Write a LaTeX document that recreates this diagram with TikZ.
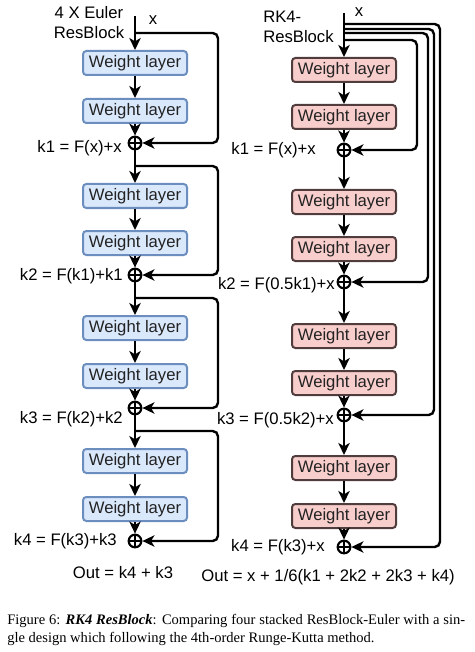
\documentclass[tikz,border=0pt]{standalone}
\usepackage{fontspec}
\setmainfont{Liberation Serif}
\setsansfont{Liberation Sans}
\usepackage{tikz}
\usetikzlibrary{arrows.meta}
\definecolor{eulerfill}{HTML}{DAE8FC}
\definecolor{eulerline}{HTML}{6C8EBF}
\definecolor{rkfill}{HTML}{F8CECC}
\definecolor{rkline}{HTML}{503C3C}
\definecolor{layertext}{HTML}{222222}

\begin{document}
\begin{tikzpicture}[x=0.75pt,y=-0.75pt]
\tikzstyle{layer}=[draw,rounded corners=2.5pt,line width=1.5pt,minimum width=78pt,minimum height=18pt,inner sep=0pt,text=layertext,font=\sffamily\fontsize{12.5}{14}\selectfont]
\tikzstyle{euler}=[layer,draw=eulerline,fill=eulerfill]
\tikzstyle{rk}=[layer,draw=rkline,fill=rkfill]
\tikzstyle{plus}=[circle,draw,line width=1.6pt,minimum size=9.5pt,inner sep=0pt,path picture={\draw[line width=1.4pt] (path picture bounding box.north) -- (path picture bounding box.south) (path picture bounding box.west) -- (path picture bounding box.east);}]
\tikzstyle{flow}=[line width=1.8pt,-{Stealth[length=9pt,width=8.5pt,inset=2.5pt]}]
\tikzstyle{skip}=[flow,rounded corners=4pt]
\tikzstyle{lbl}=[font=\sffamily\fontsize{12.5}{15}\selectfont,inner sep=0pt]

\useasboundingbox (0,0) rectangle (474,652);

% Euler column
\coordinate (eIn) at (135,16);
\coordinate (eS1) at (135,33);
\coordinate (eS2) at (135,166);
\coordinate (eS3) at (135,298);
\coordinate (eS4) at (135,431);
\node (eW1) [euler] at (135,63) {Weight layer};
\node (eW2) [euler] at (135,111) {Weight layer};
\node (eP1) [plus] at (135,143) {};
\node (eW3) [euler] at (135,196) {Weight layer};
\node (eW4) [euler] at (135,243) {Weight layer};
\node (eP2) [plus] at (135,275) {};
\node (eW5) [euler] at (135,328) {Weight layer};
\node (eW6) [euler] at (135,376) {Weight layer};
\node (eP3) [plus] at (135,408) {};
\node (eW7) [euler] at (135,461) {Weight layer};
\node (eW8) [euler] at (135,509) {Weight layer};
\node (eP4) [plus] at (135,541) {};

\draw [flow] (eIn) -- (eW1);
\draw [flow] (eW1) -- (eW2);
\draw [flow] (eW2) -- (eP1);
\draw [flow] (eP1) -- (eW3);
\draw [flow] (eW3) -- (eW4);
\draw [flow] (eW4) -- (eP2);
\draw [flow] (eP2) -- (eW5);
\draw [flow] (eW5) -- (eW6);
\draw [flow] (eW6) -- (eP3);
\draw [flow] (eP3) -- (eW7);
\draw [flow] (eW7) -- (eW8);
\draw [flow] (eW8) -- (eP4);
\draw [skip] (eS1) -- ++(83,0) |- (eP1);
\draw [skip] (eS2) -- ++(83,0) |- (eP2);
\draw [skip] (eS3) -- ++(83,0) |- (eP3);
\draw [skip] (eS4) -- ++(83,0) |- (eP4);

\node (eTitle) [lbl,align=center] at (89,23) {4 X Euler\\ResBlock};
\node (eX) [lbl] at (153,20) {x};
\node (eK1) [lbl,anchor=east] at (122,148) {k1 = F(x)+x};
\node (eK2) [lbl,anchor=east] at (123,276) {k2 = F(k1)+k1};
\node (eK3) [lbl,anchor=east] at (123,419) {k3 = F(k2)+k2};
\node (eK4) [lbl,anchor=east] at (117,541) {k4 = F(k3)+k3};
\node (eOut) [lbl] at (123,573) {Out = k4 + k3};

% RK4 column
\coordinate (rIn) at (344,13);
\coordinate (rS4) at (344,24);
\coordinate (rS3) at (344,29);
\coordinate (rS2) at (344,33);
\coordinate (rS1) at (344,40);
\node (rW1) [rk] at (344,70) {Weight layer};
\node (rW2) [rk] at (344,117) {Weight layer};
\node (rP1) [plus] at (344,150) {};
\node (rW3) [rk] at (344,202) {Weight layer};
\node (rW4) [rk] at (344,249) {Weight layer};
\node (rP2) [plus] at (344,282) {};
\node (rW5) [rk] at (344,336) {Weight layer};
\node (rW6) [rk] at (344,383) {Weight layer};
\node (rP3) [plus] at (344,415) {};
\node (rW7) [rk] at (344,468) {Weight layer};
\node (rW8) [rk] at (344,516) {Weight layer};
\node (rP4) [plus] at (344,547) {};

\draw [flow] (rIn) -- (rW1);
\draw [flow] (rW1) -- (rW2);
\draw [flow] (rW2) -- (rP1);
\draw [flow] (rP1) -- (rW3);
\draw [flow] (rW3) -- (rW4);
\draw [flow] (rW4) -- (rP2);
\draw [flow] (rP2) -- (rW5);
\draw [flow] (rW5) -- (rW6);
\draw [flow] (rW6) -- (rP3);
\draw [flow] (rP3) -- (rW7);
\draw [flow] (rW7) -- (rW8);
\draw [flow] (rW8) -- (rP4);
\draw [skip] (rS1) -- ++(73,0) |- (rP1);
\draw [skip] (rS2) -- ++(84,0) |- (rP2);
\draw [skip] (rS3) -- ++(90,0) |- (rP3);
\draw [skip] (rS4) -- ++(96,0) |- (rP4);

\node (rTitle) [lbl,align=left,anchor=west] at (263,27) {RK4-\\ResBlock};
\node (rX) [lbl] at (359,12) {x};
\node (rK1) [lbl,anchor=east] at (316,150) {k1 = F(x)+x};
\node (rK2) [lbl,anchor=east] at (335,285) {k2 = F(0.5k1)+x};
\node (rK3) [lbl,anchor=east] at (334,420) {k3 = F(0.5k2)+x};
\node (rK4) [lbl,anchor=east] at (325,547) {k4 = F(k3)+x};
\node (rOut) [lbl] at (328,577) {Out = x + 1/6(k1 + 2k2 + 2k3 + k4)};

% caption
\node (cap) [anchor=north west,inner sep=0pt,text width=343.5pt,align=justify,font=\fontsize{10.9}{13.8}\selectfont] at (7,614) {Figure 6: \textbf{\textit{RK4 ResBlock}}: Comparing four stacked ResBlock-Euler with a sin-\linebreak gle design which following the 4th-order Runge-Kutta method.};
\end{tikzpicture}
\end{document}
